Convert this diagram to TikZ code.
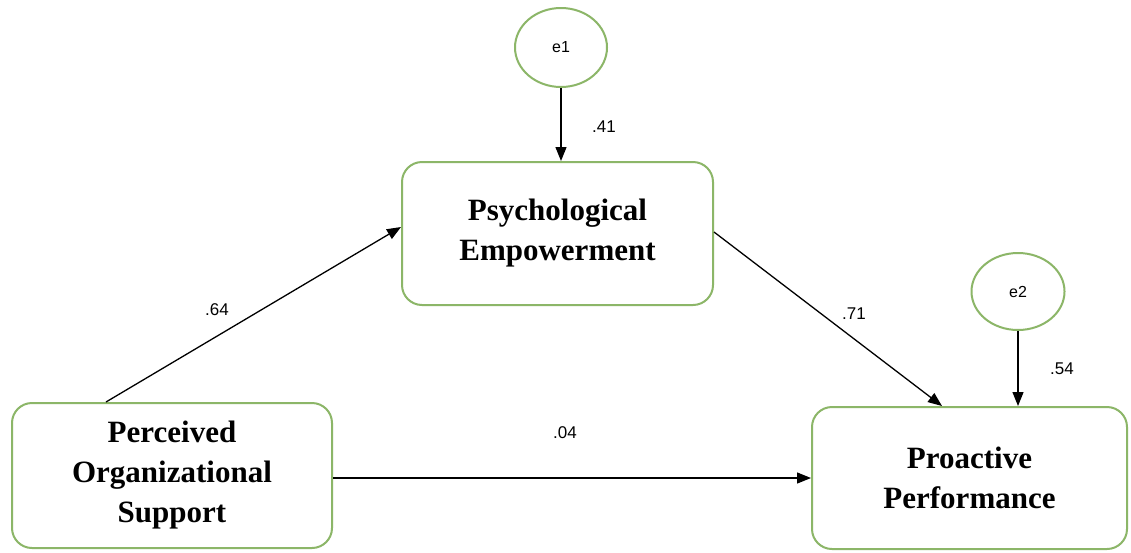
\documentclass[tikz,border=0pt]{standalone}
\usepackage{fontspec}
\setmainfont{Liberation Serif}
\newfontfamily\lblfont{Liberation Sans}
\usetikzlibrary{arrows.meta}
\definecolor{boxgreen}{RGB}{140,182,104}
\tikzset{
  varbox/.style={draw=boxgreen, line width=2pt, rounded corners=20pt, align=center,
    font=\fontsize{31}{40}\selectfont\bfseries, inner sep=0pt},
  errnode/.style={draw=boxgreen, line width=2pt, ellipse, inner sep=0pt,
    font=\lblfont\fontsize{16}{18}\selectfont},
  path/.style={draw=black, line width=1.3pt, -{Triangle[length=14pt,width=11pt]}},
  coef/.style={font=\lblfont\fontsize{17}{20}\selectfont, inner sep=0pt}
}
\usetikzlibrary{shapes.geometric}
\begin{document}
\begin{tikzpicture}[x=1pt,y=-1pt]
\useasboundingbox[fill=white] (0,0) rectangle (1131,552);
\node[varbox, minimum width=311pt, minimum height=143pt] (PE) at (557.5,233.5) {Psychological\\Empowerment};
\node[varbox, minimum width=320pt, minimum height=145pt] (POS) at (172,475.5) {Perceived\\Organizational\\Support};
\node[varbox, minimum width=315pt, minimum height=142pt] (PP) at (969.5,478) {Proactive\\Performance};
\node[errnode, minimum width=92pt, minimum height=79pt] (e1) at (561,47.5) {e1};
\node[errnode, minimum width=93pt, minimum height=77pt] (e2) at (1018,291.5) {e2};
\draw[path] (e1.south) -- (e1.south |- PE.north);
\draw[path] ([xshift=95pt]POS.north west) -- ([yshift=6.5pt]PE.west);
\draw[path] ([yshift=1.5pt]PE.east) -- ([xshift=-27.5pt]PP.north);
\draw[path] (e2.south) -- (e2.south |- PP.north);
\draw[path] (POS.east |- PP.west) -- (PP.west);
\node[coef] (c41) at (604,127) {.41};
\node[coef] (c64) at (217,310) {.64};
\node[coef] (c71) at (854,314) {.71};
\node[coef] (c54) at (1062,369) {.54};
\node[coef] (c04) at (565,433) {.04};
\end{tikzpicture}
\end{document}
